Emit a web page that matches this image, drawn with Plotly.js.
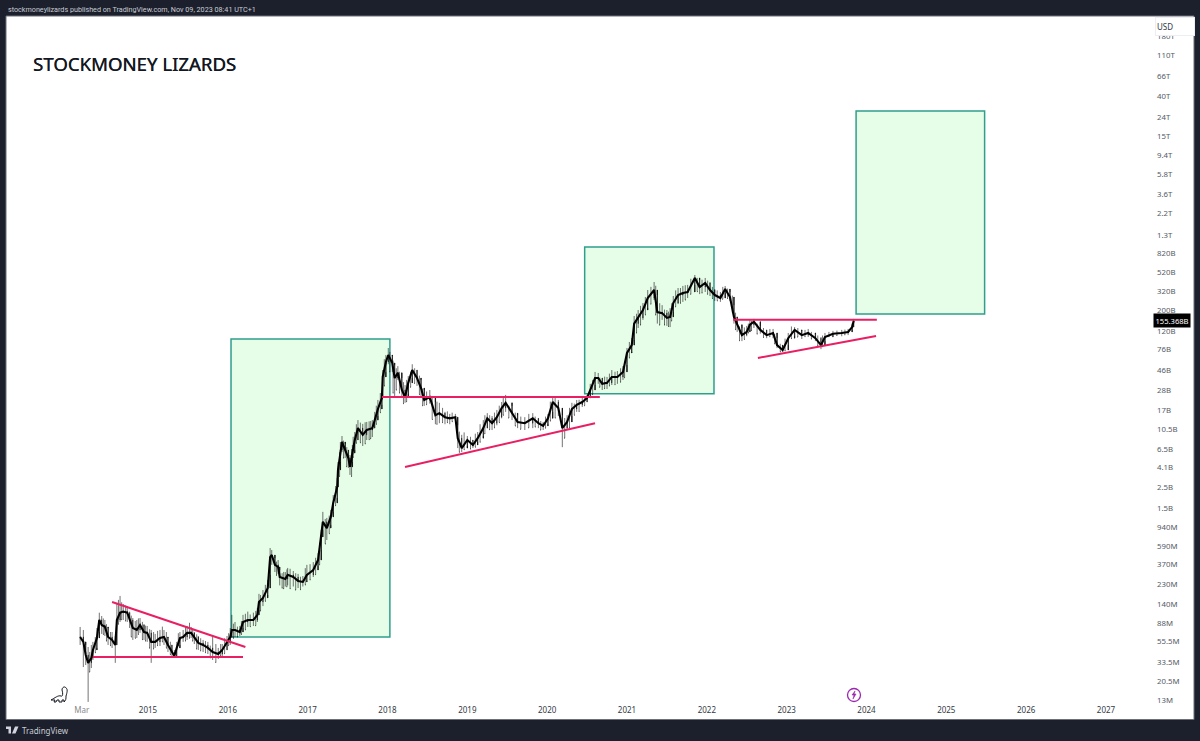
<!DOCTYPE html>
<html>
<head>
<meta charset="utf-8">
<script src="https://cdn.plot.ly/plotly-3.0.1.min.js"></script>
<style>html,body{margin:0;padding:0;background:#1c202c}#chart{width:1200px;height:741px}</style>
</head>
<body>
<div id="chart"></div>
<script>
// Market cap in billions of USD
const years = [2014.15,2014.19,2014.22,2014.25,2014.29,2014.31,2014.36,2014.39,2014.42,2014.46,2014.50,2014.55,2014.59,2014.61,2014.65,2014.69,2014.74,2014.77,2014.81,2014.86,2014.90,2014.95,2014.99,
2015.04,2015.09,2015.15,2015.20,2015.25,2015.30,2015.33,2015.36,2015.40,2015.44,2015.49,2015.54,2015.58,2015.63,2015.69,2015.75,2015.81,2015.88,2015.93,2015.99,
2016.03,2016.05,2016.09,2016.15,2016.19,2016.25,2016.32,2016.37,2016.39,2016.44,2016.50,2016.53,2016.55,2016.59,2016.63,2016.65,2016.72,2016.75,2016.82,2016.88,2016.94,2016.99,
2017.07,2017.13,2017.17,2017.19,2017.24,2017.29,2017.32,2017.37,2017.38,2017.41,2017.43,2017.47,2017.51,2017.53,2017.56,2017.59,2017.63,2017.69,2017.74,2017.81,2017.84,2017.88,2017.93,2017.94,2017.98,
2018.01,2018.06,2018.09,2018.13,2018.18,2018.22,2018.26,2018.31,2018.37,2018.42,2018.46,2018.53,2018.60,2018.65,2018.72,2018.78,2018.85,2018.88,2018.93,
2019.00,2019.07,2019.13,2019.20,2019.25,2019.31,2019.37,2019.43,2019.48,2019.56,2019.63,2019.72,2019.82,2019.89,2019.95,
2020.01,2020.07,2020.14,2020.19,2020.25,2020.31,2020.37,2020.44,2020.50,2020.54,2020.60,2020.64,2020.69,2020.75,2020.81,2020.88,2020.95,
2021.00,2021.06,2021.09,2021.14,2021.20,2021.26,2021.34,2021.38,2021.44,2021.50,2021.54,2021.58,2021.64,2021.70,2021.76,2021.85,2021.91,2021.98,
2022.04,2022.10,2022.17,2022.23,2022.29,2022.34,2022.38,2022.44,2022.50,2022.54,2022.59,2022.67,2022.75,2022.83,2022.88,2022.95,
2023.02,2023.10,2023.19,2023.27,2023.36,2023.43,2023.48,2023.58,2023.69,2023.77,2023.82,2023.84];

const closes = [.0619,.0548,.0396,.0326,.0368,.0449,.0604,.0943,.0833,.0793,.0619,.0575,.0508,.0943,.113,.116,.113,.0943,.0773,.0736,.0833,.0700,.0685,
.0548,.0548,.0604,.0619,.0508,.0427,.0386,.0472,.0604,.0619,.0685,.0685,.0619,.0534,.0508,.0472,.0427,.0406,.0449,.0534,
.0619,.0736,.0736,.0700,.0897,.0943,.0943,.107,.147,.163,.208,.448,.471,.369,.350,.273,.260,.288,.273,.248,.242,.288,
.325,.416,.736,1.07,.918,1.21,1.71,2.54,3.87,6.34,7.73,6.34,5.2,4.17,5.88,8.12,10.9,9.23,10.4,10.9,13.3,17.5,23.0,38.7,56.0,
66.6,54.7,37.7,42.9,28.0,23.5,33.4,45.9,37.7,29.4,21.9,23.5,15.0,15.8,14.3,13.9,14.3,8.5,6.65,
8.12,7.18,8.5,10.9,13.9,12.3,14.3,17.9,20.4,15.8,12.7,12.3,13.9,12.3,11.5,
13.9,20.8,17.9,10.9,12.7,17.5,19.4,20.8,23,28,37.7,37.7,32.6,33.4,38.7,38.7,43.8,
70,85.2,145,167,203,273,333,193,188,167,171,241,294,309,317,449,358,396,
333,294,273,341,280,171,141,109,118,141,152,124,109,115,85.2,75.4,
101,124,109,115,101,85,104,113,115,118,133,155.368];

const highs = [.0793,.0736,.0508,.0483,.0508,.0548,.0773,.113,.104,.0943,.0773,.0700,.0634,.144,.171,.140,.133,.116,.0990,.0943,.0990,.0851,.0813,
.0736,.0668,.0736,.0736,.0604,.0508,.0449,.0548,.0700,.0736,.0813,.0793,.0700,.0634,.0575,.0548,.0619,.0472,.0520,.0634,
.0773,.107,.0897,.0813,.107,.116,.113,.127,.180,.198,.254,.560,.533,.437,.416,.325,.309,.342,.317,.295,.280,.369,
.395,.493,.875,1.37,1.18,1.44,2.08,3.17,4.71,7.73,8.96,7.36,6.34,5.6,7.18,9.9,13.3,12.1,12.7,13.3,16.3,21.9,28.0,45.9,66.6,
79.2,65.0,51.9,50.6,37.7,31.6,39.6,53,45.9,35.9,28,28,20.8,20.4,16.3,15.5,15.5,11.7,9.23,
8.96,8.12,9.9,13.3,15.8,14.7,17.1,20.8,24.8,18.9,15,14.3,15.8,13.9,12.7,
15.5,23,21.9,15,15,20.4,21.9,23,24.8,32.6,43.8,42.7,37.7,38.7,45.9,44.8,50.7,
79.3,101.5,175,203,241,333,406,294,229,203,213,287,350,368,378,483,427,449,
406,341,317,368,317,229,167,130,137,159,163,137,124,127,101,81,
115,133,121,127,113,104,115,121,124,127,145,163];

const lows = [.0508,.0294,.0309,.0124,.0287,.0350,.0472,.0700,.0668,.0634,.0508,.0472,.0326,.0508,.0897,.0943,.0897,.0773,.0575,.0604,.0685,.0575,.0548,
.0326,.0472,.0495,.0508,.0427,.0377,.0368,.0386,.0508,.0548,.0575,.0604,.0520,.0449,.0427,.0406,.0350,.0359,.0377,.0449,
.0508,.0604,.0619,.0634,.0773,.0793,.0813,.0897,.121,.133,.175,.288,.369,.309,.295,.222,.216,.222,.216,.208,.216,.248,
.273,.358,.533,.875,.683,.99,1.37,1.93,3.02,4.71,6.03,5.2,4.07,3.42,4.71,6.34,8.12,7.0,8.12,8.74,10.9,14.7,19.4,25.5,43.8,
53,43.8,23.5,35.9,23.0,20.4,25.5,37.7,31,24.2,18.9,20,12,12.3,12,12,13.3,6.65,6.03,
7,6.65,7.73,8.96,10.9,10.4,11.7,13.9,16.3,13.3,10.9,10.4,10.9,10.9,10.4,
12,16.3,14.7,6.8,10.4,14.7,16.3,18.4,20.8,24.2,31.7,32.6,28,28.7,31.7,32.6,35.9,
51.9,71.8,96.6,130,159,213,260,145,159,137,133,193,235,248,273,378,301,317,
287,254,248,309,254,145,118,94,106,124,130,113,101,101,79,71.8,
85,106,99,104,94,77,94,104,106,109,124,133];

const opens = closes.map((c, i) => (i === 0 ? c : closes[i - 1]));

// Weeks in between whose wicks also show in the picture: [year, high, low]
const betweenYears = [2014.27,2014.34,2014.44,2014.48,2014.53,2014.63,2014.67,2014.72,2014.79,2014.84,2014.88,2014.93,2014.97,2015.02,2015.07,2015.12,2015.18,2015.23,2015.28,2015.38,2015.47,2015.52,2015.56,2015.61,2015.66,2015.72,2015.78,2015.85,2015.91,2015.96,
2016.01,2016.07,2016.12,2016.17,2016.22,2016.28,2016.35,2016.41,2016.47,2016.61,2016.68,2016.70,2016.74,2016.78,2016.85,2016.91,2016.97,
2017.03,2017.10,2017.15,2017.22,2017.27,2017.35,2017.40,2017.45,2017.49,2017.55,2017.57,2017.61,2017.66,2017.72,2017.77,2017.79,2017.86,2017.91,2017.96,
2018.03,2018.07,2018.11,2018.15,2018.20,2018.24,2018.29,2018.34,2018.40,2018.44,2018.49,2018.56,2018.62,2018.69,2018.75,2018.81,2018.90,2018.96,
2019.04,2019.10,2019.16,2019.22,2019.28,2019.34,2019.40,2019.45,2019.52,2019.60,2019.67,2019.77,2019.85,2019.92,2019.98,
2020.04,2020.10,2020.22,2020.28,2020.34,2020.40,2020.47,2020.57,2020.66,2020.72,2020.78,2020.85,2020.92,2020.97,
2021.03,2021.12,2021.17,2021.23,2021.30,2021.36,2021.41,2021.47,2021.52,2021.56,2021.61,2021.67,2021.73,2021.80,2021.88,2021.94,
2022.01,2022.07,2022.13,2022.20,2022.26,2022.32,2022.36,2022.41,2022.47,2022.52,2022.56,2022.63,2022.71,2022.79,2022.85,2022.92,2022.98,
2023.06,2023.14,2023.23,2023.31,2023.39,2023.45,2023.53,2023.63,2023.73];
const betweenHighs = [.0427,.0619,.098,.085,.070,.155,.146,.135,.105,.092,.098,.090,.082,.075,.070,.072,.080,.070,.055,.068,.080,.088,.076,.066,.060,.056,.050,.052,.052,.060,
.068,.086,.080,.092,.110,.108,.118,.175,.225,.400,.300,.310,.330,.335,.300,.275,.340,
.375,.440,.640,1.15,1.25,2.6,6.0,8.0,6.8,6.5,8.8,12,12.5,12.6,12.9,13,19,26,60,
72,58,48,44,34,36,44,48,40,29,27,24,21,18,16.5,16,10,9.8,
8.8,9.5,12,15,15,16,19,23,19,16,14.5,15.5,14.5,13,14.5,
21,23,14,18,20,22,24,36,38,39,42,44,48,55,
92,185,225,280,360,370,240,205,195,240,330,350,375,440,450,430,
420,360,330,360,345,290,190,135,132,145,155,145,130,127,112,88,100,
135,130,124,118,108,108,118,122,125];
const betweenLows = [.026,.0420,.0660,.056,.050,.085,.095,.092,.062,.060,.066,.058,.056,.047,.046,.050,.055,.047,.040,.050,.056,.060,.056,.046,.044,.042,.037,.033,.039,.041,
.050,.060,.062,.066,.074,.080,.082,.118,.150,.285,.208,.205,.215,.205,.198,.200,.225,
.255,.290,.370,.62,.80,1.6,3.3,5.2,4.2,3.3,5.3,7.5,7.6,7.4,8.2,8.4,12,16,31,
44,26,28,26,20,21,30,33,25,19,19.5,13.5,12,12.5,12.5,12.8,6,6.4,
6.5,6.8,7.7,9.5,10.5,11,12.5,15,14,11.5,10.6,11,11.2,10.4,10.9,
13,14,8.5,11,15,16.5,19,25,30,29,31,32,34,38,
62,115,140,180,235,180,140,140,135,155,220,240,260,300,320,310,
300,270,255,265,270,190,125,95,98,115,122,112,103,105,88,72,74,
100,104,105,99,83,82,105,108,110];

const yTickValues = [.013,.0205,.0335,.0555,.088,.14,.23,.37,.59,.94,1.5,2.5,4.1,6.5,10.5,17,28,46,76,120,200,320,520,820,1300,2200,3600,5800,9400,15000,24000,40000,66000,110000,180000];
const yTickLabels = ["13M","20.5M","33.5M","55.5M","88M","140M","230M","370M","590M","940M","1.5B","2.5B","4.1B","6.5B","10.5B","17B","28B","46B","76B","120B","200B","320B","520B","820B","1.3T","2.2T","3.6T","5.8T","9.4T","15T","24T","40T","66T","110T","180T"];
const xTickValues = [2014.17,2015,2016,2017,2018,2019,2020,2021,2022,2023,2024,2025,2026,2027];
const xTickLabels = ['<span style="color:#8a8a8a">Mar</span>',"2015","2016","2017","2018","2019","2020","2021","2022","2023","2024","2025","2026","2027"];

// Target boxes: [start year, end year, low, high]
const boxes = [[2016.04,2018.03,.0619,99],[2020.47,2022.09,25.5,966],[2023.87,2025.48,184,28000]];
// Trend lines: [year a, value a, year b, value b]
const trendLines = [[2014.55,.147,2016.22,.0483],[2014.31,.0377,2016.19,.0377],[2017.93,23.5,2020.66,23.5],[2018.22,4.17,2020.60,12.3],[2022.33,159,2024.13,159],[2022.64,61.9,2024.12,106.6]];

const lastPrice = closes[closes.length - 1];
const lastLabel = "155.368B";
const headerText = "stockmoneylizards published on TradingView.com, Nov 09, 2023 08:41 UTC+1";

// frame geometry
const L = 6, R = 1156, T = 25, B = 704;
const xp = px => (px - L) / (R - L);
const yp = py => (B - py) / (B - T);

const shapes = [];
shapes.push({type:"rect",layer:"below",xref:"paper",yref:"paper",x0:xp(6),x1:xp(1194),y0:yp(719.5),y1:yp(16),fillcolor:"#ffffff",line:{color:"#6b6f78",width:1}});
boxes.forEach(b => shapes.push({type:"rect",layer:"below",xref:"x",yref:"y",x0:b[0],x1:b[1],y0:b[2],y1:b[3],fillcolor:"#e6fde8",line:{color:"#2f9f8c",width:1.5}}));
trendLines.forEach(t => shapes.push({type:"line",layer:"above",xref:"x",yref:"y",x0:t[0],y0:t[1],x1:t[2],y1:t[3],line:{color:"#e91e63",width:2}}));
// dinosaur mark
shapes.push({type:"path",xref:"paper",yref:"paper",xsizemode:"pixel",ysizemode:"pixel",xanchor:xp(60),yanchor:yp(695),
  path:"M -9,-5 C -5,-3 -2,0 1,-1 C 3,-2 3,2 2,5 C 2,8 5,9 6,7 C 8,6 7,2 6,-1 C 6,-4 6,-5 4,-7 L 4,-5 L 2,-5 L 2,-7 L -1,-7 L -1,-5 L -3,-5 L -4,-7 L -6,-7 L -5,-5 Z",
  line:{color:"#131722",width:1},fillcolor:"rgba(0,0,0,0)"});
// lightning badge
shapes.push({type:"circle",xref:"paper",yref:"paper",xsizemode:"pixel",ysizemode:"pixel",xanchor:xp(854),yanchor:yp(695),x0:-6.5,x1:6.5,y0:-6.5,y1:6.5,line:{color:"#9c27b0",width:1.3},fillcolor:"rgba(0,0,0,0)"});
shapes.push({type:"path",xref:"paper",yref:"paper",xsizemode:"pixel",ysizemode:"pixel",xanchor:xp(854),yanchor:yp(695),path:"M 1,4 L -2,0 L 0,0 L -1,-4 L 2,1 L 0,1 Z",line:{color:"#9c27b0",width:.6},fillcolor:"#9c27b0"});
// TradingView mark in the footer
shapes.push({type:"path",xref:"paper",yref:"paper",xsizemode:"pixel",ysizemode:"pixel",xanchor:xp(6),yanchor:yp(730),
  path:"M 0,3.5 H 5 V -3.5 H 2.5 V 1 H 0 Z M 6,2 A 1.2,1.2 0 1 0 6.01,2 Z M 9,3.5 H 12.5 L 9.5,-3.5 H 6 Z",
  line:{width:0},fillcolor:"#d1d4dc"});

const annotations = [
  {xref:"paper",yref:"paper",x:xp(6),y:yp(9),xanchor:"left",yanchor:"middle",showarrow:false,text:headerText,font:{family:"Roboto",size:7.2,color:"#c9ccd4"}},
  {xref:"paper",yref:"paper",x:xp(20),y:yp(730),xanchor:"left",yanchor:"middle",showarrow:false,text:"TradingView",font:{family:"Noto Sans",size:8,color:"#c9ccd4"}},
  {xref:"paper",yref:"y",x:xp(1153),y:Math.log10(lastPrice),xanchor:"left",yanchor:"middle",showarrow:false,text:lastLabel,bgcolor:"#000000",borderpad:1.5,font:{family:"Noto Sans",size:7.6,color:"#ffffff"}},
  {xref:"paper",yref:"paper",x:xp(1155),y:yp(27),xanchor:"left",yanchor:"middle",showarrow:false,text:"USD",width:36,height:15,align:"left",bgcolor:"#ffffff",bordercolor:"#eceef2",borderwidth:1,font:{family:"Noto Sans",size:8,color:"#333a45"}}
];

const wickStyle = {line:{color:"rgba(0,0,0,.55)",width:1},fillcolor:"#000000"};
const data = [
  {type:"candlestick",x:betweenYears,open:betweenLows,high:betweenHighs,low:betweenLows,close:betweenLows,whiskerwidth:0,
   increasing:wickStyle,decreasing:wickStyle,hoverinfo:"skip"},
  {type:"candlestick",x:years,open:opens,high:highs,low:lows,close:closes,whiskerwidth:0,
   increasing:wickStyle,decreasing:wickStyle,hoverinfo:"skip"},
  {type:"scatter",mode:"lines",x:years,y:closes,line:{color:"#000000",width:2.1},hoverinfo:"skip"}
];

const layout = {
  width:1200,height:741,
  margin:{l:L,r:1200-R,t:T,b:741-B,pad:0},
  paper_bgcolor:"#1c202c",plot_bgcolor:"#ffffff",
  showlegend:false,hovermode:false,
  title:{text:"STOCKMONEY LIZARDS",x:33/1200,xref:"container",xanchor:"left",y:1-64/741,yref:"container",yanchor:"middle",font:{family:"Noto Sans",size:18.6,shadow:"0.35px 0 0 #131722",color:"#131722"}},
  xaxis:{type:"linear",range:[2015-(148-L)/79.83,2015+(R-148)/79.83],tickmode:"array",tickvals:xTickValues,ticktext:xTickLabels,
    showgrid:false,zeroline:false,showline:false,ticks:"",rangeslider:{visible:false},tickangle:0,
    tickfont:{family:"Noto Sans",size:8,color:"#333a45"}},
  yaxis:{type:"log",side:"right",range:[-1.886+(700-B)/93,-1.886+(700-T)/93],tickmode:"array",tickvals:yTickValues,ticktext:yTickLabels,
    showgrid:false,zeroline:false,showline:false,ticks:"",tickangle:0,
    tickfont:{family:"Noto Sans",size:7.8,color:"#555b66"}},
  shapes:shapes,annotations:annotations
};
Plotly.newPlot("chart",data,layout,{displayModeBar:false,staticPlot:true});
</script>
</body>
</html>
